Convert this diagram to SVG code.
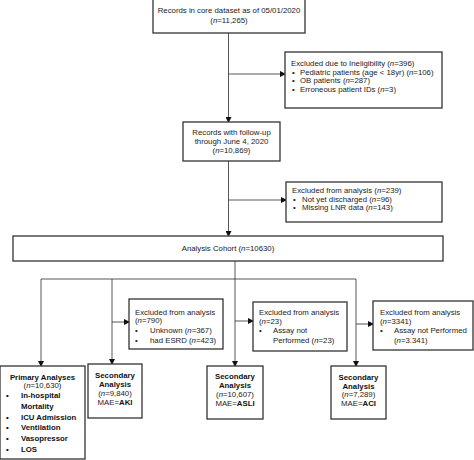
<svg xmlns="http://www.w3.org/2000/svg" width="474" height="460" viewBox="0 0 474 460">
<defs>
<marker id="ah" markerWidth="6" markerHeight="6" refX="5" refY="3" orient="auto" markerUnits="userSpaceOnUse">
<path d="M0,0 L6,3 L0,6 Z" fill="#111"/>
</marker>
<style>
.box{fill:#fff;stroke:#333;stroke-width:1.3}
.ln{fill:none;stroke:#444;stroke-width:0.9}
.ar{fill:none;stroke:#444;stroke-width:0.9;marker-end:url(#ah)}
text{font-family:"Liberation Sans",Arial,sans-serif;font-size:7.8px;fill:#222}
.c{text-anchor:middle}
.b{font-weight:bold;fill:#111}
.i{font-style:italic}
</style>
</defs>
<rect width="474" height="460" fill="#fff"/>
<g id="connectors">
<path class="ar" d="M228.5,33 V122"/>
<path class="ar" d="M228.5,74 H285"/>
<path class="ar" d="M228.5,161 V236"/>
<path class="ar" d="M228.5,200 H286"/>
<path class="ln" d="M235,261 V279 M41,279 H356"/>
<path class="ar" d="M41,279 V366"/>
<path class="ar" d="M112,279 V364"/>
<path class="ar" d="M235,279 V366"/>
<path class="ar" d="M356,279 V366"/>
<path class="ar" d="M112,322 H129"/>
<path class="ar" d="M235,321 H253"/>
<path class="ar" d="M356,324 H373"/>
</g>
<g id="n-records">
<rect class="box" x="153" y="-1" width="152" height="34"/>
<text class="c" x="229" y="13">Records in core dataset as of 05/01/2020</text>
<text class="c" x="229" y="22.5">(<tspan class="i">n</tspan>=11,265)</text>
</g>
<g id="n-excl-inelig">
<rect class="box" x="285" y="52" width="157" height="56"/>
<text x="291" y="66">Excluded due to Ineligibility (<tspan class="i">n</tspan>=396)</text>
<text x="292" y="74.5">•</text><text x="300" y="74.5">Pediatric patients (age &lt; 18yr) (<tspan class="i">n</tspan>=106)</text>
<text x="292" y="83">•</text><text x="300" y="83">OB patients (<tspan class="i">n</tspan>=287)</text>
<text x="292" y="91.5">•</text><text x="300" y="91.5">Erroneous patient IDs (<tspan class="i">n</tspan>=3)</text>
</g>
<g id="n-followup">
<rect class="box" x="183" y="122" width="97" height="39"/>
<text class="c" x="231.5" y="135">Records with follow-up</text>
<text class="c" x="231.5" y="144">through June 4, 2020</text>
<text class="c" x="231.5" y="153">(<tspan class="i">n</tspan>=10,869)</text>
</g>
<g id="n-excl-analysis">
<rect class="box" x="286" y="182" width="156" height="40"/>
<text x="292" y="193">Excluded from analysis (<tspan class="i">n</tspan>=239)</text>
<text x="293" y="201.5">•</text><text x="302" y="201.5">Not yet discharged (<tspan class="i">n</tspan>=96)</text>
<text x="293" y="210">•</text><text x="302" y="210">Missing LNR data (<tspan class="i">n</tspan>=143)</text>
</g>
<g id="n-cohort">
<rect class="box" x="13" y="236" width="430" height="25"/>
<text class="c" x="228" y="251">Analysis Cohort (<tspan class="i">n</tspan>=10630)</text>
</g>
<g id="n-excl-aki">
<rect class="box" x="129" y="299" width="94" height="50"/>
<text x="135" y="314.5">Excluded from analysis</text>
<text x="135" y="323">(<tspan class="i">n</tspan>=790)</text>
<text x="135" y="333">•</text><text x="150" y="333">Unknown (<tspan class="i">n</tspan>=367)</text>
<text x="135" y="343">•</text><text x="150" y="343">had ESRD (<tspan class="i">n</tspan>=423)</text>
</g>
<g id="n-excl-asli">
<rect class="box" x="253" y="302" width="94" height="49"/>
<text x="259" y="315">Excluded from analysis</text>
<text x="259" y="323.5">(<tspan class="i">n</tspan>=23)</text>
<text x="259" y="333">•</text><text x="273" y="333">Assay not</text>
<text x="273" y="343">Performed (<tspan class="i">n</tspan>=23)</text>
</g>
<g id="n-excl-aci">
<rect class="box" x="373" y="301" width="100" height="49"/>
<text x="380" y="315">Excluded from analysis</text>
<text x="380" y="323.5">(<tspan class="i">n</tspan>=3341)</text>
<text x="380" y="333">•</text><text x="394" y="333">Assay not Performed</text>
<text x="394" y="343">(<tspan class="i">n</tspan>=3.341)</text>
</g>
<g id="n-primary">
<rect class="box" x="0" y="366" width="85" height="93"/>
<text class="c b" x="42.5" y="379.5">Primary Analyses</text>
<text class="c" x="42.5" y="388">(<tspan class="i">n</tspan>=10,630)</text>
<text class="b" x="6" y="398">•</text><text class="b" x="21" y="398">In-hospital</text>
<text class="b" x="21" y="408.5">Mortality</text>
<text class="b" x="6" y="419.5">•</text><text class="b" x="21" y="419.5">ICU Admission</text>
<text class="b" x="6" y="430">•</text><text class="b" x="21" y="430">Ventilation</text>
<text class="b" x="6" y="441">•</text><text class="b" x="21" y="441">Vasopressor</text>
<text class="b" x="6" y="452">•</text><text class="b" x="21" y="452">LOS</text>
</g>
<g id="n-aki">
<rect class="box" x="88" y="364" width="54" height="54"/>
<text class="c b" x="115" y="378">Secondary</text>
<text class="c b" x="115" y="387">Analysis</text>
<text class="c" x="115" y="396">(<tspan class="i">n</tspan>=9,840)</text>
<text class="c" x="115" y="405">MAE=<tspan class="b">AKI</tspan></text>
</g>
<g id="n-asli">
<rect class="box" x="207" y="366" width="56" height="53"/>
<text class="c b" x="235" y="379">Secondary</text>
<text class="c b" x="235" y="388">Analysis</text>
<text class="c" x="235" y="397">(<tspan class="i">n</tspan>=10,607)</text>
<text class="c" x="235" y="406">MAE=<tspan class="b">ASLI</tspan></text>
</g>
<g id="n-aci">
<rect class="box" x="331" y="366" width="55" height="53"/>
<text class="c b" x="358.5" y="379.5">Secondary</text>
<text class="c b" x="358.5" y="388.5">Analysis</text>
<text class="c" x="358.5" y="397">(<tspan class="i">n</tspan>=7,289)</text>
<text class="c" x="358.5" y="406">MAE=<tspan class="b">ACI</tspan></text>
</g>
</svg>
